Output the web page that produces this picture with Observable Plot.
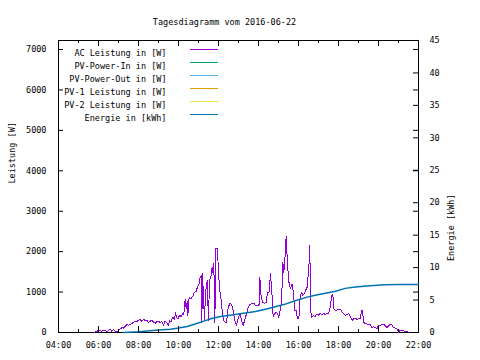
<!DOCTYPE html>
<html><head><meta charset="utf-8">
<script src="https://cdn.jsdelivr.net/npm/d3@7"></script>
<script src="https://cdn.jsdelivr.net/npm/@observablehq/plot@0.6"></script>
<style>body{margin:0;background:#fff} svg{display:block}</style>
</head><body><div id="chart"></div>
<script>
const title = "Tagesdiagramm vom 2016-06-22";
const yLabelLeft = "Leistung [W]";
const yLabelRight = "Energie [kWh]";
const seriesNames = ["AC Leistung in [W]", "PV-Power-In in [W]", "PV-Power-Out in [W]", "PV-1 Leistung in [W]", "PV-2 Leistung in [W]", "Energie in [kWh]"];
const seriesColors = ["#9400d3", "#009e73", "#56b4e9", "#e69f00", "#f0e442", "#0072b2"];

const acTimes = ["05:48","05:51","06:00","06:10","06:20","06:25","06:30","06:35","06:40","06:45","06:50","06:55","07:00","07:05","07:10","07:15","07:20","07:25","07:30","07:35","07:40","07:45","07:50","07:55","08:00","08:05","08:10","08:15","08:20","08:25","08:30","08:35","08:40","08:45","08:50","08:55","09:00","09:05","09:10","09:15","09:20","09:25","09:30","09:33","09:38","09:43","09:48","09:51","09:55","09:58","10:03","10:08","10:12","10:16","10:20","10:23","10:26","10:28","10:32","10:38","10:43","10:48","10:53","10:58","11:02","11:05","11:08","11:10","11:12","11:15","11:18","11:21","11:26","11:30","11:33","11:37","11:41","11:44","11:46","11:49","11:52","11:57","12:00","12:04","12:07","12:11","12:15","12:20","12:24","12:29","12:34","12:39","12:44","12:49","12:54","12:58","13:04","13:09","13:14","13:19","13:24","13:29","13:34","13:40","13:46","13:51","13:57","14:02","14:04","14:08","14:13","14:18","14:23","14:27","14:32","14:36","14:40","14:44","14:48","14:53","14:57","15:01","15:05","15:08","15:11","15:13","15:16","15:19","15:23","15:26","15:29","15:32","15:36","15:41","15:45","15:49","15:53","15:57","16:01","16:05","16:09","16:13","16:17","16:21","16:26","16:31","16:34","16:36","16:40","16:45","16:50","16:55","17:00","17:05","17:10","17:15","17:20","17:25","17:30","17:35","17:40","17:43","17:46","17:51","17:56","18:01","18:06","18:11","18:16","18:21","18:26","18:31","18:36","18:41","18:46","18:51","18:56","19:01","19:06","19:09","19:12","19:15","19:20","19:25","19:30","19:35","19:40","19:45","19:50","19:55","20:00","20:05","20:10","20:15","20:20","20:25","20:30","20:35","20:40","20:45","20:50","20:55","21:00","21:05","21:10","21:15","21:20","21:25","21:30"];
const acWatts = [0,30,40,35,50,30,45,80,30,70,40,5,60,90,120,110,150,200,180,190,220,250,280,270,300,320,280,330,290,310,250,280,300,260,230,270,280,250,270,180,280,250,170,290,270,380,330,490,360,340,420,400,460,450,830,600,760,420,870,840,900,1000,1020,1150,1200,1370,1410,250,1450,870,300,1000,1280,300,1280,1370,1610,1450,1700,250,2070,2080,1450,1040,870,550,300,260,250,620,710,700,540,300,170,330,460,300,170,320,460,630,690,720,720,670,660,700,1370,870,750,720,750,1000,1000,1450,1000,380,460,500,460,380,560,700,1160,1740,1490,1780,2370,1860,1450,1200,1080,1200,960,550,540,340,350,870,1000,920,950,1040,1120,1610,2150,550,380,420,390,460,430,470,440,470,450,470,460,630,920,950,590,540,560,560,580,500,460,420,450,460,380,300,340,340,330,340,350,540,550,260,220,210,200,200,130,140,130,90,170,170,210,210,170,120,160,200,190,120,110,90,10,50,50,40,25,25,0];

const energyTimes = ["07:15","08:00","09:00","09:36","10:00","10:26","10:50","11:16","11:40","12:06","12:40","13:15","13:51","14:30","15:16","15:50","16:26","16:50","17:20","17:51","18:20","18:50","19:16","19:45","20:16","21:00","22:00"];
const energyKWh = [0,0.12,0.4,0.51,0.68,0.92,1.3,1.75,2.15,2.47,2.7,2.95,3.24,3.7,4.3,4.9,5.45,5.75,6.05,6.37,6.8,7.0,7.14,7.26,7.35,7.39,7.4];

const xTicks = [4,6,8,10,12,14,16,18,20,22];
const xTickLabels = ["04:00","06:00","08:00","10:00","12:00","14:00","16:00","18:00","20:00","22:00"];
const xMinorTicks = [5,7,9,11,13,15,17,19,21];
const y1Ticks = [0,1000,2000,3000,4000,5000,6000,7000];
const y2Ticks = [0,5,10,15,20,25,30,35,40,45];
const Y1MAX = 7223, Y2MAX = 45;
const K = Y1MAX / Y2MAX;

const toH = s => { const [h, m] = s.split(":").map(Number); return h + m / 60; };
const ac = acTimes.map((t, i) => ({h: toH(t), w: acWatts[i]}));
const en = energyTimes.map((t, i) => ({h: toH(t), e: energyKWh[i] * K}));
const FONT = "'DejaVu Sans Mono', monospace";

const marks = [
  Plot.frame({stroke: "black"}),
  Plot.line(ac, {x: "h", y: "w", stroke: seriesColors[0], strokeWidth: 1, shapeRendering: "crispEdges"}),
  Plot.line(en, {x: "h", y: "e", stroke: seriesColors[5], strokeWidth: 1.5}),
  Plot.tickY(y1Ticks, {y: d => d, insetRight: 355, stroke: "black"}),
  Plot.tickY(y1Ticks, {y: d => d, insetLeft: 355, stroke: "black"}),
  Plot.tickY(y2Ticks.map(v => v * K), {y: d => d, insetLeft: 355, stroke: "black"}),
  Plot.tickX(xTicks, {x: d => d, insetTop: 286, stroke: "black"}),
  Plot.tickX(xTicks, {x: d => d, insetBottom: 286, stroke: "black"}),
  Plot.tickX(xMinorTicks, {x: d => d, insetTop: 289, stroke: "black"}),
  Plot.tickX(xMinorTicks, {x: d => d, insetBottom: 289, stroke: "black"}),
  Plot.axisX({ticks: xTicks, tickFormat: d => xTickLabels[xTicks.indexOf(d)], tickSize: 0, tickPadding: 9, label: null}),
  Plot.axisY({ticks: y1Ticks, tickFormat: d => String(d), tickSize: 0, tickPadding: 12, label: null}),
  Plot.axisY({anchor: "right", ticks: y2Ticks.map(v => v * K), tickFormat: d => String(Math.round(d / K)), tickSize: 0, tickPadding: 11, label: null}),
  Plot.text([title], {text: d => d, frameAnchor: "top", dx: -14, dy: -22}),
  Plot.text([yLabelLeft], {text: d => d, frameAnchor: "left", rotate: -90, dx: -46, dy: -3}),
  Plot.text([yLabelRight], {text: d => d, frameAnchor: "right", rotate: -90, dx: 33, dy: 8}),
];
seriesNames.forEach((name, i) => {
  marks.push(Plot.text([name], {text: d => d, frameAnchor: "top-left", textAnchor: "end", dx: 108, dy: 9 + 13.05 * i}));
});

const plot = Plot.plot({
  width: 480, height: 360,
  marginLeft: 58, marginRight: 62, marginTop: 40, marginBottom: 28,
  style: {fontFamily: FONT, fontSize: "8.5px", color: "black", background: "white"},
  x: {domain: [4, 22]},
  y: {domain: [0, Y1MAX]},
  marks
});
document.getElementById("chart").appendChild(plot);

// legend line samples
const svg = d3.select(plot);
const g = svg.append("g");
seriesColors.forEach((c, i) => {
  const y = Math.round(40 + 9 + 13.05 * i) + 0.5;
  g.append("line").attr("x1", 190).attr("x2", 218).attr("y1", y).attr("y2", y)
    .attr("stroke", c).attr("stroke-width", 1);
});
</script>
</body></html>
